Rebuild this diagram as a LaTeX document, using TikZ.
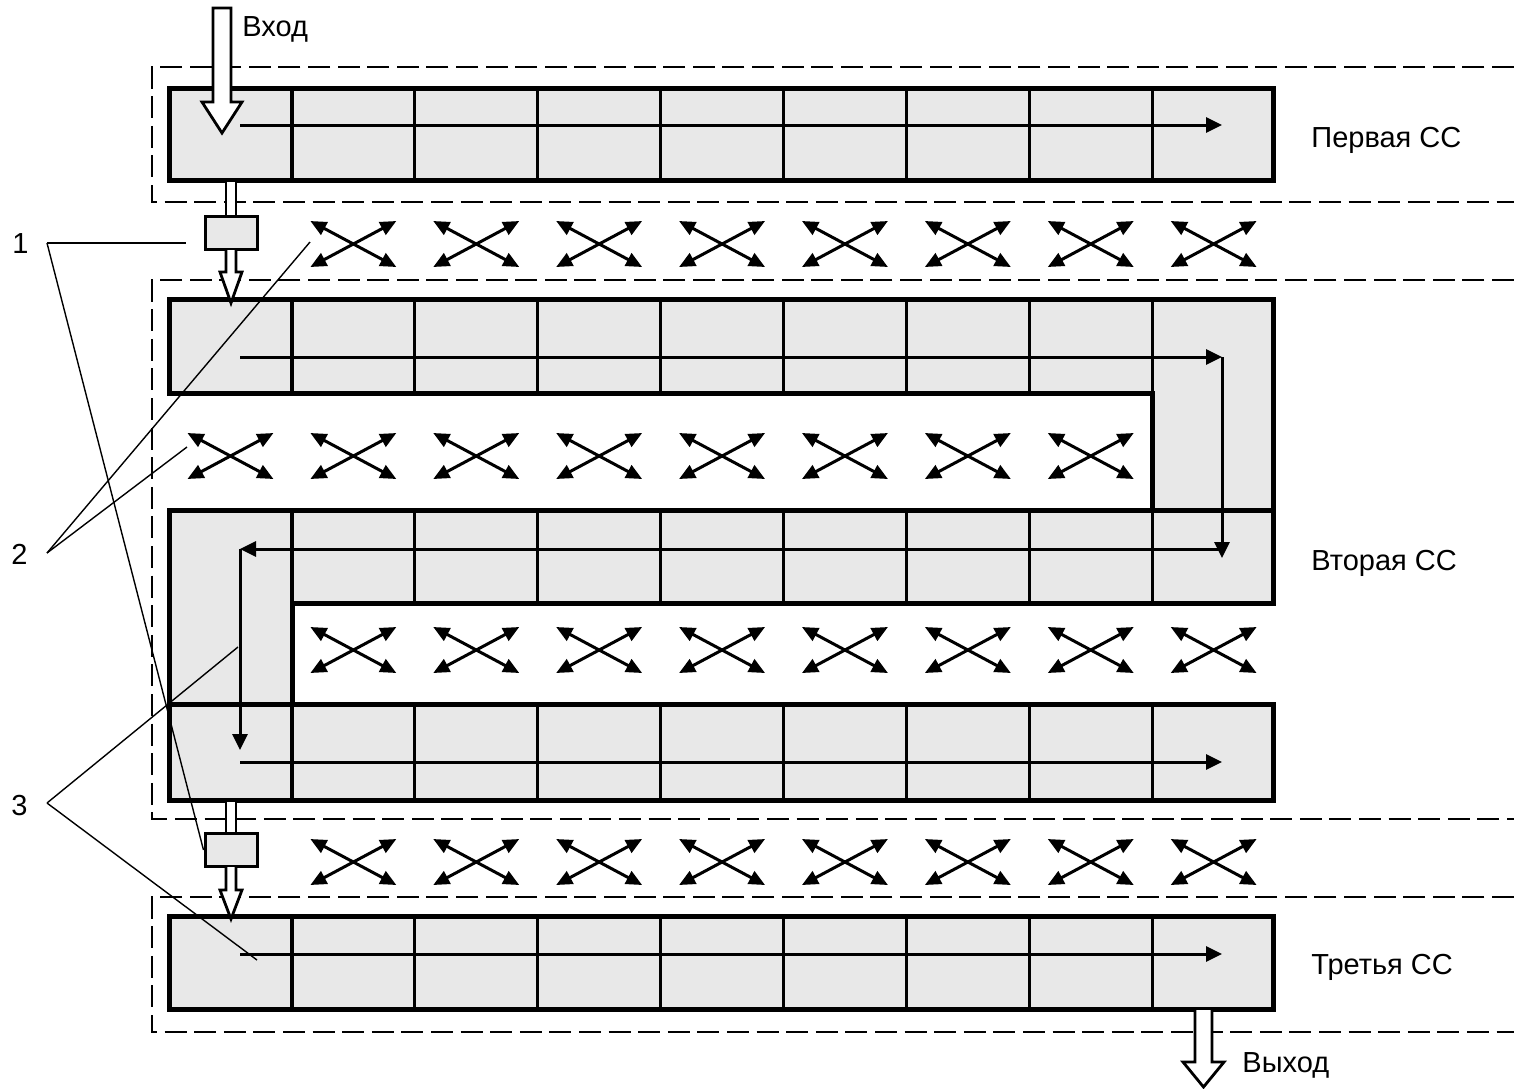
\documentclass[tikz,border=0pt]{standalone}
\usepackage{fontspec}
\setmainfont{Liberation Sans}
\definecolor{cellgray}{RGB}{232,232,232}
\usetikzlibrary{arrows.meta}

\begin{document}
\begin{tikzpicture}[x=0.5pt, y=-0.5pt,
    frame/.style={draw, line width=2.5pt, fill=cellgray, line join=miter},
    cell/.style={line width=1.6pt},
    zone/.style={dash pattern=on 11pt off 3.8pt, line width=1.1pt},
    flow/.style={-{Triangle[length=8pt,width=7.5pt]}, line width=1.5pt},
    xarr/.style={{Triangle[length=8pt,width=7pt]}-{Triangle[length=8pt,width=7pt]},
                 line width=1.5pt},
    hollow/.style={draw, fill=white, line width=1.4pt, line join=miter},
    swbox/.style={draw, fill=cellgray, line width=1.5pt,
                  minimum width=26pt, minimum height=16.5pt, inner sep=0pt},
    lead/.style={line width=0.7pt},
    lbl/.style={font=\fontsize{14.5}{17}\selectfont, inner sep=0pt, anchor=base west}
  ]
    \useasboundingbox (0,0) rectangle (1514,1088);

    % Dashed zones, open to the right
    \draw[zone] (1514,67)  -- (152,67)  -- (152,202)  -- (1514,202);
    \draw[zone] (1514,280) -- (152,280) -- (152,819)  -- (1514,819);
    \draw[zone] (1514,897) -- (152,897) -- (152,1032) -- (1514,1032);

    % Chains
    \draw[frame] (169,88) rectangle (1273,180);
    \draw[frame] (169,299) -- (1273,299) -- (1273,603) -- (292,603) -- (292,704)
                 -- (1273,704) -- (1273,800) -- (169,800) -- (169,510) -- (1152,510)
                 -- (1152,393) -- (169,393) -- cycle;
    \draw[line width=2.5pt] (1152,510) -- (1273,510);
    \draw[line width=2.5pt] (169,704) -- (292,704);
    \draw[frame] (169,916) rectangle (1273,1009);

    % Cell borders
    \foreach \k in {1,...,8} {
      \pgfmathsetmacro\xx{169+\k*122.9}
      \draw[cell] (\xx,86) -- (\xx,178);
      \draw[cell] (\xx,706) -- (\xx,802);
      \draw[cell] (\xx,914) -- (\xx,1007);
    }
    \foreach \k in {1,...,7} {
      \pgfmathsetmacro\xx{169+\k*122.9}
      \draw[cell] (\xx,297) -- (\xx,393);
    }
    \foreach \k in {2,...,7} {
      \pgfmathsetmacro\xx{169+\k*122.9}
      \draw[cell] (\xx,508) -- (\xx,601);
    }
    \draw[cell] (291.9,508) -- (291.9,704);
    \draw[cell] (1152.2,297) -- (1152.2,601);

    % Flow through the cells
    \coordinate (fa) at (240,357);  \coordinate (fb) at (1222,357);
    \coordinate (fc) at (1222,549); \coordinate (fd) at (240,549);
    \draw[flow] (240,125) -- (1222,125);
    \draw[flow] (fa) -- (fb);
    \draw[flow] (fb) -- (1222,558);
    \draw[flow] (fc) -- (fd);
    \draw[flow] (fd) -- (240,750);
    \draw[flow] (240,762) -- (1222,762);
    \draw[flow] (240,954) -- (1222,954);

    % Exchange crosses
    \foreach \cy/\first/\last in {244/2/9, 456/1/8, 650/2/9, 862/2/9}
      \foreach \k in {\first,...,\last} {
        \pgfmathsetmacro\cx{169+(\k-0.5)*122.9}
        \draw[xarr] (\cx-43,\cy-23) -- (\cx+43,\cy+23);
        \draw[xarr] (\cx-43,\cy+23) -- (\cx+43,\cy-23);
      }

    % Input, links and output
    \draw[hollow] (213,8) -- (231,8) -- (231,102) -- (242,102) -- (222,133)
                  -- (202,102) -- (213,102) -- cycle;
    \node[lbl] (in) at (242,36) {Вход};

    \draw[hollow] (226,181) rectangle (236,216);
    \node[swbox] (sw1) at (231,232.5) {};
    \draw[hollow] (226,250) -- (226,272) -- (220,272) -- (231,303) -- (242,272)
                  -- (236,272) -- (236,250);

    \draw[hollow] (226,801) rectangle (236,834);
    \node[swbox] (sw2) at (231,850) {};
    \draw[hollow] (226,867) -- (226,890) -- (220,890) -- (231,919) -- (242,890)
                  -- (236,890) -- (236,867);

    \draw[hollow] (1195,1010) -- (1195,1062) -- (1183,1062) -- (1203.5,1087)
                  -- (1224,1062) -- (1212,1062) -- (1212,1010);
    \node[lbl] (out) at (1242,1072) {Выход};

    % Stage names
    \node[lbl] (ss1) at (1311,147) {Первая СС};
    \node[lbl] (ss2) at (1311,570) {Вторая СС};
    \node[lbl] (ss3) at (1311,974) {Третья СС};

    % Callouts
    \node[lbl] (n1) at (12,253) {1};
    \node[lbl] (n2) at (11,564) {2};
    \node[lbl] (n3) at (11,815) {3};
    \coordinate (p1) at (47,243);
    \coordinate (p2) at (47,553);
    \coordinate (p3) at (47,803);
    \coordinate (t1) at (186,243);
    \coordinate (t2) at (187,447);
    \coordinate (t3) at (310,242);
    \coordinate (t4) at (238,647);
    \coordinate (t5) at (257,960);
    \draw[lead] (p1) -- (t1);
    \draw[lead] (p1) -- (sw2.west);
    \draw[lead] (p2) -- (t2);
    \draw[lead] (p2) -- (t3);
    \draw[lead] (p3) -- (t4);
    \draw[lead] (p3) -- (t5);
\end{tikzpicture}
\end{document}
